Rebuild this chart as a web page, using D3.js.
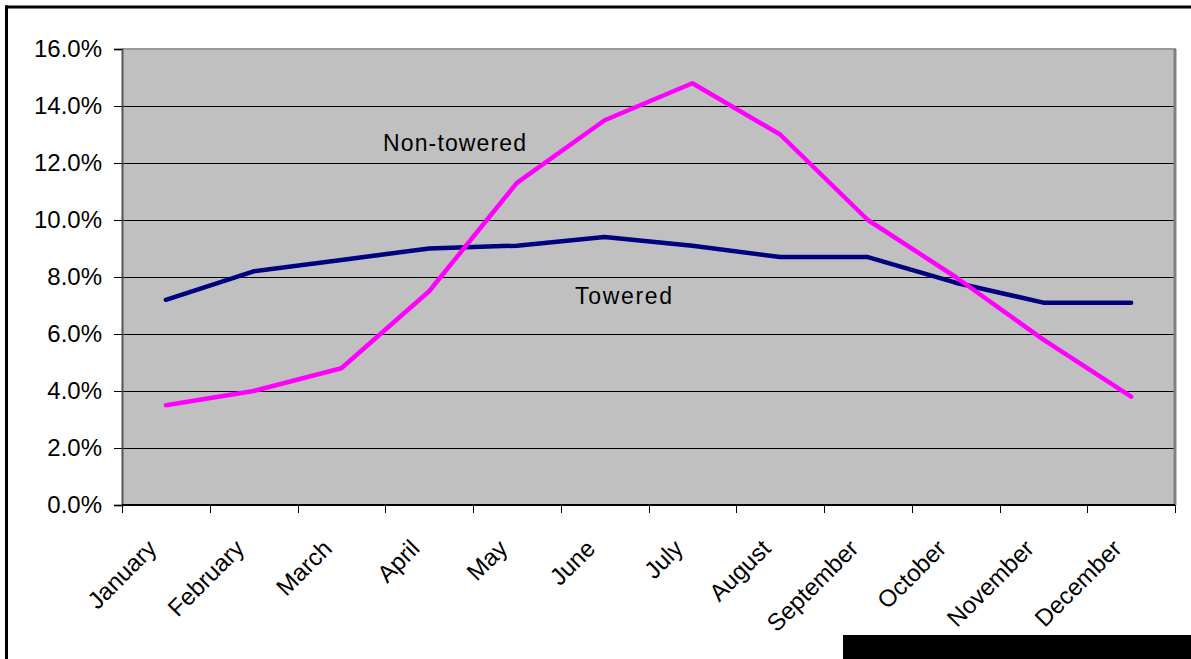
<!DOCTYPE html>
<html>
<head>
<meta charset="utf-8">
<script src="https://cdn.jsdelivr.net/npm/d3@7"></script>
<style>
  html, body { margin: 0; padding: 0; background: #fff; }
  svg { display: block; font-family: "Liberation Sans", Arial, sans-serif; }
</style>
</head>
<body>
<svg id="chart" width="1191" height="659"></svg>
<script>
// Monthly share of annual operations, towered vs non-towered airports
const months = ["January", "February", "March", "April", "May", "June",
                "July", "August", "September", "October", "November", "December"];
const towered    = [7.2, 8.2, 8.6, 9.0, 9.1, 9.4, 9.1, 8.7, 8.7, 7.8, 7.1, 7.1];
const nonTowered = [3.5, 4.0, 4.8, 7.5, 11.3, 13.5, 14.8, 13.0, 10.0, 8.0, 5.8, 3.8];
const yTicks = [0, 2, 4, 6, 8, 10, 12, 14, 16];

const svg = d3.select("#chart");
const plot = { left: 122, top: 49, right: 1175, bottom: 505 };

const x = d3.scaleBand().domain(months).range([plot.left, plot.right]);
const y = d3.scaleLinear().domain([0, 16]).range([plot.bottom, plot.top]);

// outer frame (top and left edges)
svg.append("line").attr("x1", 5).attr("x2", 1191).attr("y1", 7).attr("y2", 7)
  .attr("stroke", "#000").attr("stroke-width", 3);
svg.append("line").attr("x1", 6.5).attr("x2", 6.5).attr("y1", 5.5).attr("y2", 659)
  .attr("stroke", "#000").attr("stroke-width", 3);
svg.append("rect").attr("x", 843).attr("y", 635).attr("width", 348).attr("height", 24)
  .attr("fill", "#000");

// plot area
svg.append("rect")
  .attr("x", plot.left).attr("y", plot.top)
  .attr("width", plot.right - plot.left).attr("height", plot.bottom - plot.top)
  .attr("fill", "#c0c0c0");

// horizontal gridlines
svg.append("g")
  .selectAll("line")
  .data(yTicks.filter(d => d > 0 && d < 16))
  .join("line")
  .attr("x1", plot.left).attr("x2", plot.right)
  .attr("y1", d => Math.round(y(d)) + 0.5).attr("y2", d => Math.round(y(d)) + 0.5)
  .attr("stroke", "#000").attr("stroke-width", 1);

// plot area border
svg.append("line").attr("x1", plot.left).attr("x2", plot.right + 1)
  .attr("y1", plot.top).attr("y2", plot.top).attr("stroke", "#9a9a9a").attr("stroke-width", 2);
svg.append("line").attr("x1", plot.right).attr("x2", plot.right)
  .attr("y1", plot.top).attr("y2", plot.bottom).attr("stroke", "#808080").attr("stroke-width", 3);

// y axis
const yAxis = svg.append("g")
  .attr("transform", `translate(${plot.left},0)`)
  .call(d3.axisLeft(y).tickValues(yTicks).tickSize(8).tickPadding(12)
        .tickFormat(d => d.toFixed(1) + "%"));
yAxis.select(".domain").attr("stroke", "#555").attr("stroke-width", 2);
yAxis.selectAll(".tick line").attr("stroke", "#000");
yAxis.selectAll(".tick text").attr("font-size", 24).attr("fill", "#000")
  .attr("font-family", "Liberation Sans, Arial, sans-serif");

// x axis: ticks on category boundaries
const xAxisG = svg.append("g").attr("transform", `translate(0,${plot.bottom})`);
xAxisG.append("line").attr("x1", plot.left).attr("x2", plot.right)
  .attr("y1", 0).attr("y2", 0).attr("stroke", "#000").attr("stroke-width", 2);
const boundaries = months.map(m => x(m)).concat([plot.right]);
xAxisG.selectAll("line.tick")
  .data(boundaries)
  .join("line")
  .attr("class", "tick")
  .attr("x1", d => Math.round(d) + 0.5).attr("x2", d => Math.round(d) + 0.5)
  .attr("y1", 0).attr("y2", 8)
  .attr("stroke", "#000").attr("stroke-width", 1);
xAxisG.selectAll("text")
  .data(months)
  .join("text")
  .attr("transform", d => `translate(${x(d) + x.bandwidth() / 2 - 8},${45}) rotate(-45)`)
  .attr("text-anchor", "end")
  .attr("font-size", 24)
  .attr("fill", "#000")
  .text(d => d);

// series lines
const line = d3.line()
  .x((d, i) => x(months[i]) + x.bandwidth() / 2)
  .y(d => y(d));

svg.append("path").datum(towered)
  .attr("d", line).attr("fill", "none")
  .attr("stroke", "#000080").attr("stroke-width", 4.5)
  .attr("stroke-linejoin", "round").attr("stroke-linecap", "round");

svg.append("path").datum(nonTowered)
  .attr("d", line).attr("fill", "none")
  .attr("stroke", "#ff00ff").attr("stroke-width", 4.5)
  .attr("stroke-linejoin", "round").attr("stroke-linecap", "round");

// series annotations
svg.append("text").attr("x", 383).attr("y", 151)
  .attr("font-size", 23).attr("fill", "#000").attr("textLength", 143)
  .text("Non-towered");
svg.append("text").attr("x", 575).attr("y", 304)
  .attr("font-size", 23).attr("fill", "#000").attr("textLength", 97)
  .text("Towered");
</script>
</body>
</html>
